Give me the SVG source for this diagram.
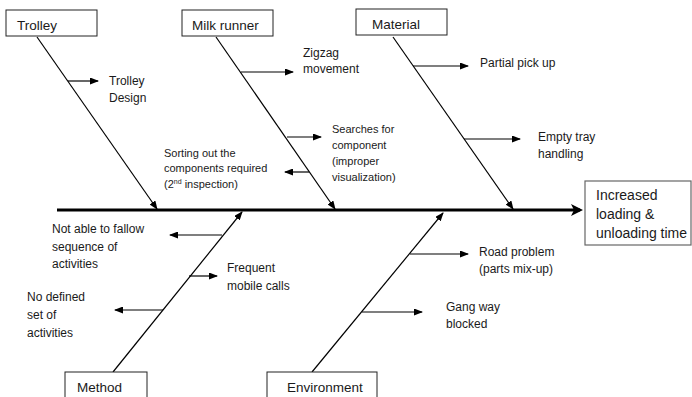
<svg xmlns="http://www.w3.org/2000/svg" width="692" height="397" viewBox="0 0 692 397">
<style>
  text { font-family: "Liberation Sans", Arial, sans-serif; fill: #1a1a1a; }
  .hd { font-size: 13.5px; }
  .lb { font-size: 12px; }
  .sm { font-size: 11px; }
  .ef { font-size: 14px; }
  .box { fill: #fff; stroke: #222; stroke-width: 1; }
  .effbox { fill: #fff; stroke: #666; stroke-width: 1.2; }
  .bone { stroke: #000; stroke-width: 1.2; fill: none; marker-end: url(#ah); }
  .sub { stroke: #000; stroke-width: 1.2; fill: none; marker-end: url(#ah); }
  .spine { stroke: #000; stroke-width: 3; fill: none; marker-end: url(#big); }
</style>
<defs>
  <marker id="ah" markerUnits="userSpaceOnUse" markerWidth="9" markerHeight="7" refX="8" refY="3.5" orient="auto">
    <path d="M0,0 L9,3.5 L0,7 z" fill="#000"/>
  </marker>
  <marker id="big" markerUnits="userSpaceOnUse" markerWidth="13" markerHeight="12" refX="9" refY="6" orient="auto">
    <path d="M0,0 L12,6 L0,12 L3,6 z" fill="#000"/>
  </marker>
</defs>
<rect width="692" height="397" fill="#fff"/>

<g id="connectors">
  <line class="spine" x1="57" y1="210" x2="580" y2="210"/>
  <line class="bone" x1="37" y1="37" x2="157" y2="209"/>
  <line class="bone" x1="216" y1="37" x2="335" y2="209"/>
  <line class="bone" x1="393" y1="37" x2="513" y2="209"/>
  <line class="bone" x1="113" y1="372" x2="242" y2="212"/>
  <line class="bone" x1="312" y1="372" x2="443" y2="213"/>
  <line class="sub" x1="68" y1="81" x2="98" y2="81"/>
  <line class="sub" x1="241" y1="72" x2="293" y2="72"/>
  <line class="sub" x1="287" y1="137" x2="321" y2="137"/>
  <line class="sub" x1="309" y1="172" x2="285" y2="172"/>
  <line class="sub" x1="413" y1="66" x2="468" y2="66"/>
  <line class="sub" x1="464" y1="139" x2="520" y2="139"/>
  <line class="sub" x1="222" y1="235" x2="170" y2="235"/>
  <line class="sub" x1="189" y1="276" x2="217" y2="276"/>
  <line class="sub" x1="163" y1="310" x2="115" y2="310"/>
  <line class="sub" x1="410" y1="254" x2="468" y2="254"/>
  <line class="sub" x1="362" y1="312" x2="422" y2="312"/>
</g>

<g id="trolley">
  <rect class="box" x="6" y="10" width="91" height="26"/>
  <text class="hd" x="17" y="30">Trolley</text>
</g>
<g id="milk-runner">
  <rect class="box" x="182" y="10" width="91" height="26"/>
  <text class="hd" x="192" y="30">Milk runner</text>
</g>
<g id="material">
  <rect class="box" x="356" y="9" width="91" height="26"/>
  <text class="hd" x="372" y="29">Material</text>
</g>
<g id="method">
  <rect class="box" x="65" y="372" width="82" height="30"/>
  <text class="hd" x="77" y="392">Method</text>
</g>
<g id="environment">
  <rect class="box" x="267" y="372" width="110" height="30"/>
  <text class="hd" x="287" y="392">Environment</text>
</g>
<g id="effect">
  <rect class="effbox" x="585" y="181" width="106" height="64"/>
  <text class="ef" x="596" y="200">Increased</text>
  <text class="ef" x="596" y="219">loading &amp;</text>
  <text class="ef" x="596" y="238">unloading time</text>
</g>

<g id="trolley-design">
  <text class="lb" x="109" y="85">Trolley</text>
  <text class="lb" x="109" y="102">Design</text>
</g>
<g id="zigzag">
  <text class="lb" x="303" y="57">Zigzag</text>
  <text class="lb" x="303" y="73">movement</text>
</g>
<g id="searches">
  <text class="sm" x="332" y="133">Searches for</text>
  <text class="sm" x="332" y="149">component</text>
  <text class="sm" x="332" y="165">(improper</text>
  <text class="sm" x="332" y="181">visualization)</text>
</g>
<g id="sorting">
  <text class="sm" x="164" y="157">Sorting out the</text>
  <text class="sm" x="164" y="172">components required</text>
  <text class="sm" x="164" y="188">(2<tspan font-size="7" dy="-4">nd</tspan><tspan dy="4"> inspection)</tspan></text>
</g>
<g id="partial">
  <text class="lb" x="480" y="67">Partial pick up</text>
</g>
<g id="empty-tray">
  <text class="lb" x="538" y="141">Empty tray</text>
  <text class="lb" x="538" y="158">handling</text>
</g>
<g id="not-able">
  <text class="lb" x="52" y="233">Not able to fallow</text>
  <text class="lb" x="52" y="251">sequence of</text>
  <text class="lb" x="52" y="268">activities</text>
</g>
<g id="frequent">
  <text class="lb" x="227" y="272">Frequent</text>
  <text class="lb" x="227" y="290">mobile calls</text>
</g>
<g id="no-defined">
  <text class="lb" x="27" y="301">No defined</text>
  <text class="lb" x="27" y="319">set of</text>
  <text class="lb" x="27" y="337">activities</text>
</g>
<g id="road">
  <text class="lb" x="479" y="256">Road problem</text>
  <text class="lb" x="479" y="273">(parts mix-up)</text>
</g>
<g id="gangway">
  <text class="lb" x="446" y="311">Gang way</text>
  <text class="lb" x="446" y="328">blocked</text>
</g>
</svg>
